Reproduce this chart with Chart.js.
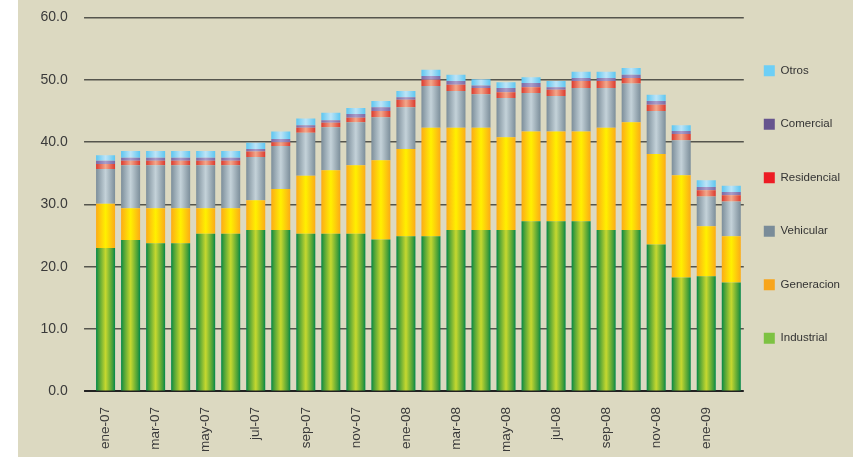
<!DOCTYPE html>
<html lang="es">
<head>
    <meta charset="utf-8">
    <title>Consumo por sector</title>
    <script src="https://cdn.jsdelivr.net/npm/chart.js@4.4.1/dist/chart.umd.min.js"></script>
    <style>
        html, body { margin: 0; padding: 0; background: #fff; }
        #wrap {
            width: 862px;
            height: 457px;
            background: linear-gradient(to right, #fff 0, #fff 18px, #dcd9c1 18px, #dcd9c1 853px, #fff 853px);
        }
    </style>
</head>
<body>

<div id="wrap">
    <canvas id="graph" width="862" height="457"></canvas>
</div>

<script>
    // Data (millones, lectura aproximada del grafico)
    var months = ["ene-07", "feb-07", "mar-07", "abr-07", "may-07", "jun-07", "jul-07", "ago-07", "sep-07", "oct-07", "nov-07", "dic-07",
                  "ene-08", "feb-08", "mar-08", "abr-08", "may-08", "jun-08", "jul-08", "ago-08", "sep-08", "oct-08", "nov-08", "dic-08",
                  "ene-09", "feb-09"];
    var industrial  = [23.0, 24.3, 23.8, 23.8, 25.3, 25.3, 25.9, 25.9, 25.3, 25.3, 25.3, 24.4, 24.9, 24.9, 25.9, 25.9, 25.9, 27.3, 27.3, 27.3, 25.9, 25.9, 23.6, 18.3, 18.5, 17.5];
    var generacion  = [7.1, 5.1, 5.6, 5.6, 4.1, 4.1, 4.8, 6.6, 9.3, 10.2, 11.0, 12.7, 14.0, 17.4, 16.4, 16.4, 14.9, 14.4, 14.4, 14.4, 16.4, 17.3, 14.5, 16.4, 8.0, 7.4];
    var vehicular   = [5.6, 6.9, 6.9, 6.9, 6.9, 6.9, 6.9, 6.9, 6.9, 6.9, 6.9, 6.9, 6.7, 6.7, 5.9, 5.4, 6.3, 6.2, 5.7, 7.0, 6.4, 6.2, 6.9, 5.6, 4.8, 5.6];
    var residencial = [0.8, 0.7, 0.7, 0.7, 0.7, 0.7, 0.9, 0.6, 0.8, 0.7, 0.7, 1.0, 1.2, 1.0, 1.0, 1.0, 0.9, 0.9, 1.0, 1.1, 1.1, 0.9, 1.0, 1.0, 1.0, 1.0];
    var comercial   = [0.5, 0.5, 0.5, 0.5, 0.5, 0.5, 0.4, 0.5, 0.4, 0.4, 0.6, 0.6, 0.4, 0.6, 0.6, 0.4, 0.7, 0.7, 0.4, 0.5, 0.5, 0.5, 0.6, 0.5, 0.5, 0.5];
    var otros       = [0.9, 1.1, 1.1, 1.1, 1.1, 1.1, 1.0, 1.2, 1.1, 1.2, 1.0, 1.0, 1.0, 1.0, 1.0, 1.0, 0.9, 0.9, 1.0, 1.0, 1.0, 1.1, 1.0, 0.9, 1.1, 1.0];

    var seriesNames = ["Industrial", "Generacion", "Vehicular", "Residencial", "Comercial", "Otros"];
    var seriesData = [industrial, generacion, vehicular, residencial, comercial, otros];

    // Colours: flat legend colour, then bar gradient (edge, middle)
    var legendColors = ["#7dc242", "#f8a51b", "#7a8c99", "#ed1c24", "#66548e", "#6dcff6"];
    var barStops = [
        [[0, "#00884a"], [0.12, "#3f9c3a"], [0.5, "#c6d82f"], [0.88, "#3f9c3a"], [1, "#00884a"]],
        [[0, "#fcab17"], [0.5, "#fff000"], [1, "#fcab17"]],
        [[0, "#7c8e9a"], [0.5, "#c4d2d9"], [1, "#7c8e9a"]],
        [[0, "#dc3a2e"], [0.5, "#f3a88b"], [1, "#dc3a2e"]],
        [[0, "#7a69a5"], [0.5, "#ab9dca"], [1, "#7a69a5"]],
        [[0, "#5cc6f1"], [0.5, "#bde4f7"], [1, "#5cc6f1"]]
    ];
    var BAR_PCT = 0.76;
    var FONT = "'Liberation Sans', Arial, sans-serif";

    function barFill(i) {
        return function(c) {
            var chart = c.chart;
            var xs = chart.scales.x;
            if (c.type !== "data" || !xs || !chart.chartArea) return legendColors[i];
            var cx = xs.getPixelForValue(c.dataIndex);
            var half = xs.width / months.length * BAR_PCT / 2;
            var g = chart.ctx.createLinearGradient(cx - half, 0, cx + half, 0);
            barStops[i].forEach(function(s) { g.addColorStop(s[0], s[1]); });
            return g;
        };
    }

    var datasets = seriesNames.map(function(name, i) {
        return {
            label: name,
            data: seriesData[i],
            backgroundColor: barFill(i),
            borderWidth: 0
        };
    });

    new Chart(document.getElementById("graph").getContext("2d"), {
        type: "bar",
        data: { labels: months, datasets: datasets },
        options: {
            responsive: false,
            animation: false,
            devicePixelRatio: 1,
            categoryPercentage: 1,
            barPercentage: BAR_PCT,
            layout: { padding: { left: 32.5, right: 12, top: 17.5, bottom: 0 } },
            scales: {
                x: {
                    stacked: true,
                    grid: { display: false, drawTicks: true, tickLength: 10.5 },
                    border: { display: false },
                    ticks: {
                        autoSkip: false,
                        minRotation: 90,
                        maxRotation: 90,
                        padding: 5,
                        color: "#3a3a3a",
                        font: { family: FONT, size: 13.5 },
                        callback: function(v, idx) { return idx % 2 === 0 ? months[idx] : ""; }
                    }
                },
                y: {
                    stacked: true,
                    min: 0,
                    max: 60,
                    border: { display: false },
                    grid: {
                        color: function(c) { return c.tick && c.tick.value === 0 ? "#222" : "#55554d"; },
                        lineWidth: function(c) { return c.tick && c.tick.value === 0 ? 2 : 1.5; },
                        drawTicks: true,
                        tickLength: 17.3,
                        // only the inner 9px of the tick mark is visible
                        tickBorderDash: [9, 8.3],
                        tickBorderDashOffset: 9
                    },
                    ticks: {
                        stepSize: 10,
                        padding: 8,
                        color: "#3a3a3a",
                        font: { family: FONT, size: 14 },
                        callback: function(v) { return v.toFixed(1); }
                    }
                }
            },
            plugins: {
                tooltip: { enabled: false },
                legend: {
                    position: "right",
                    align: "start",
                    reverse: true,
                    title: { display: true, text: "", padding: 0, font: { size: 10, lineHeight: "27.5px" } },
                    labels: {
                        boxWidth: 11,
                        boxHeight: 11,
                        padding: 20,
                        color: "#333",
                        font: { family: FONT, size: 11.5, lineHeight: "33.5px" },
                        generateLabels: function(chart) {
                            var items = Chart.defaults.plugins.legend.labels.generateLabels(chart);
                            items.forEach(function(it) {
                                it.fillStyle = legendColors[it.datasetIndex];
                                it.strokeStyle = legendColors[it.datasetIndex];
                                it.lineWidth = 0;
                                it.text = [it.text];
                            });
                            return items;
                        }
                    }
                }
            }
        }
    });
</script>

</body>
</html>
